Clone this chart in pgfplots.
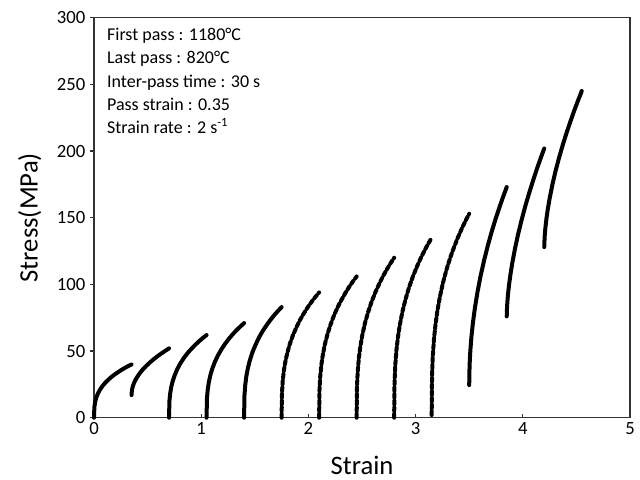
\documentclass[border=0pt]{standalone}
\usepackage{fontspec}
\setmainfont{Carlito}
\usepackage{pgfplots}
\pgfplotsset{compat=1.18}

\begin{document}
\begin{tikzpicture}
\begin{axis}[
  scale only axis,
  width=402pt, height=300pt,
  xmin=0, xmax=5, ymin=0, ymax=300,
  xtick={0,1,2,3,4,5},
  ytick={0,50,100,150,200,250,300},
  xtick pos=bottom, ytick pos=left,
  xtick align=inside, ytick align=outside,
  major tick length=3pt,
  axis line style={draw=black!80, line width=1.1pt},
  tick style={black!80, line width=0.9pt},
  ticklabel style={font=\fontsize{14}{16}\selectfont},
  /pgf/number format/assume math mode=true,
  xlabel={Strain},
  ylabel={Stress(MPa)},
  label style={font=\fontsize{20}{24}\selectfont},
  xlabel style={at={(axis description cs:0.5,-0.118)}, anchor=center, inner sep=0pt},
  ylabel style={at={(axis description cs:-0.12,0.5)}, anchor=center, inner sep=0pt},
  every axis plot post/.append style={black, mark=none, line width=3pt, line cap=round, line join=round},
  clip=false,
]
% pass 1
\addplot coordinates {(0,0) (0.0035,8.0) (0.0105,11.7) (0.021,15.0) (0.035,17.9) (0.0525,20.6) (0.077,23.6) (0.105,26.2) (0.14,29.0) (0.175,31.4) (0.21,33.4) (0.245,35.3) (0.28,37.0) (0.315,38.6) (0.35,40)};
% pass 2
\addplot coordinates {(0.35,17) (0.3535,20.5) (0.3605,23.1) (0.371,25.6) (0.385,28.1) (0.4025,30.5) (0.427,33.4) (0.455,36.2) (0.49,39.1) (0.525,41.7) (0.56,44.1) (0.595,46.3) (0.63,48.3) (0.665,50.2) (0.70,52)};
% pass 3
\addplot coordinates {(0.70,0) (0.7035,12.4) (0.7105,18.2) (0.721,23.2) (0.735,27.7) (0.7525,31.9) (0.777,36.5) (0.805,40.7) (0.84,45.0) (0.875,48.7) (0.91,51.8) (0.945,54.7) (0.98,57.4) (1.015,59.8) (1.05,62)};
% pass 4
\addplot coordinates {(1.05,0) (1.0535,14.2) (1.0605,20.8) (1.071,26.6) (1.085,31.7) (1.1025,36.6) (1.127,41.8) (1.155,46.6) (1.19,51.5) (1.225,55.7) (1.26,59.4) (1.295,62.7) (1.33,65.7) (1.365,68.4) (1.40,71)};
% pass 5
\addplot coordinates {(1.40,0) (1.4035,16.6) (1.4105,24.3) (1.421,31.0) (1.435,37.1) (1.4525,42.7) (1.477,48.9) (1.505,54.4) (1.54,60.3) (1.575,65.2) (1.61,69.4) (1.645,73.3) (1.68,76.8) (1.715,80.0) (1.75,83)};
% pass 6
\addplot coordinates {(1.75,0) (1.7535,18.8) (1.7605,27.5) (1.771,35.2) (1.785,42.0) (1.8025,48.4) (1.827,55.4) (1.855,61.7) (1.89,68.2) (1.925,73.8) (1.96,78.6) (1.995,83.0) (2.03,87.0) (2.065,90.6) (2.10,94)};
% pass 7
\addplot coordinates {(2.10,0) (2.1035,21.1) (2.1105,31.1) (2.121,39.6) (2.135,47.4) (2.1525,54.6) (2.177,62.4) (2.205,69.5) (2.24,77.0) (2.275,83.2) (2.31,88.6) (2.345,93.6) (2.38,98.1) (2.415,102.2) (2.45,106)};
% pass 8
\addplot coordinates {(2.45,0) (2.4535,23.9) (2.4605,35.2) (2.471,44.9) (2.485,53.6) (2.5025,61.8) (2.527,70.7) (2.555,78.7) (2.59,87.1) (2.625,94.2) (2.66,100.3) (2.695,106.0) (2.73,111.0) (2.765,115.7) (2.80,120)};
% pass 9
\addplot coordinates {(2.80,0) (2.8035,26.9) (2.8105,39.6) (2.821,50.5) (2.835,60.3) (2.8525,69.5) (2.877,79.5) (2.905,88.6) (2.94,98.0) (2.975,106.0) (3.01,112.9) (3.045,119.2) (3.08,124.9) (3.115,130.1) (3.15,135)};
% pass 10
\addplot coordinates {(3.15,2) (3.1535,32.1) (3.1605,46.2) (3.171,58.5) (3.185,69.5) (3.2025,79.8) (3.227,90.9) (3.255,101.1) (3.29,111.6) (3.325,120.5) (3.36,128.2) (3.395,135.3) (3.43,141.7) (3.465,147.6) (3.50,153)};
% pass 11
\addplot coordinates {(3.50,24.5) (3.5035,39.4) (3.5105,50.2) (3.521,60.9) (3.535,71.4) (3.5525,82.0) (3.577,94.1) (3.605,105.9) (3.64,118.4) (3.675,129.5) (3.71,139.6) (3.745,148.8) (3.78,157.3) (3.815,165.4) (3.85,173)};
% pass 12
\addplot coordinates {(3.85,76) (3.8535,83.9) (3.8605,91.4) (3.871,99.3) (3.885,107.6) (3.9025,116.3) (3.927,126.8) (3.955,137.2) (3.99,148.7) (4.025,159.2) (4.06,168.7) (4.095,177.7) (4.13,186.3) (4.165,194.3) (4.20,202)};
% pass 13
\addplot coordinates {(4.20,128) (4.2035,135.4) (4.2105,142.3) (4.221,149.6) (4.235,157.4) (4.2525,165.4) (4.277,175.2) (4.305,184.9) (4.34,195.5) (4.375,205.2) (4.41,214.1) (4.445,222.4) (4.48,230.4) (4.515,237.9) (4.55,245)};

\node[anchor=north west, align=left, inner sep=0pt, font=\fontsize{13.5}{17.5}\selectfont]
  at (rel axis cs:0.024,0.975)
  {First pass : 1180°C\\Last pass : 820°C\\Inter-pass time : 30 s\\Pass strain : 0.35\\Strain rate : 2 s\textsuperscript{-1}};
\end{axis}
\path (current axis.south west) ++(-70.5pt,-46pt) rectangle ([shift={(7.5pt,13.3pt)}]current axis.north east);
\end{tikzpicture}
\end{document}
